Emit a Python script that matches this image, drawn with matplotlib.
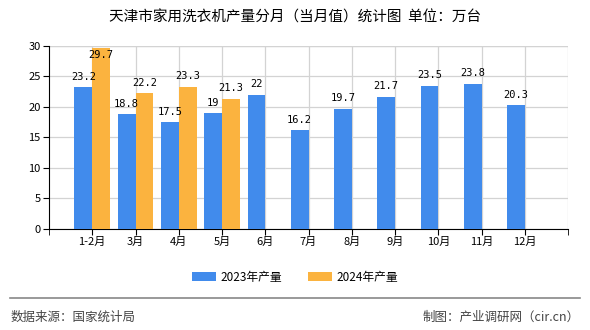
import numpy as np
import matplotlib
matplotlib.use("Agg")
import matplotlib.pyplot as plt
from matplotlib.lines import Line2D

plt.rcParams['font.family'] = ['Noto Sans CJK SC', 'DejaVu Sans']

months = ["1-2月", "3月", "4月", "5月", "6月", "7月", "8月", "9月", "10月", "11月", "12月"]
y2023 = [23.2, 18.8, 17.5, 19, 22, 16.2, 19.7, 21.7, 23.5, 23.8, 20.3]
y2024 = [29.7, 22.2, 23.3, 21.3]
yticks = [0, 5, 10, 15, 20, 25, 30]

BLUE = "#418bec"
ORANGE = "#fbb33f"


def fmt(v):
    return f"{v:g}"


fig = plt.figure(figsize=(5.9, 3.3), dpi=100)
ax = fig.add_axes([0.083, 0.306, 0.880, 0.555])

x = np.arange(1, len(months) + 1)
w = 0.41
ax.bar(x - w / 2, y2023, width=w, color=BLUE, label="2023年产量", zorder=3)
x24 = x[:len(y2024)]
ax.bar(x24 + w / 2, y2024, width=w, color=ORANGE, label="2024年产量", zorder=3)

mono = ["DejaVu Sans Mono", "DejaVu Sans"]
for xi, v in zip(x, y2023):
    ax.text(xi - w / 2, v + 0.9, fmt(v), ha="center", va="bottom", fontsize=7.5,
            family=mono, zorder=4)
for xi, v in zip(x24, y2024):
    ax.text(xi + w / 2, v + 0.9 if v < 29 else v - 2.0, fmt(v), ha="center", va="bottom",
            fontsize=7.5, family=mono, zorder=4)

ax.set_xlim(0, 12)
ax.set_ylim(0, 30)
ax.set_yticks(yticks)
ax.set_xticks(x)
ax.set_xticklabels(months)
ax.set_xticks([0, 12], minor=True)
ax.tick_params(axis="both", labelsize=8, length=4, color="black", pad=2)
ax.tick_params(axis="x", which="minor", length=4)
ax.grid(True, color="#d3d3d3", linewidth=0.9, zorder=0)
for s in ["top", "right"]:
    ax.spines[s].set_visible(False)
ax.spines["left"].set_color("black")
ax.spines["bottom"].set_color("black")
ax.axvline(12, color="#d3d3d3", linewidth=0.9, zorder=0)
ax.axhline(30, color="#d3d3d3", linewidth=0.9, zorder=0)

fig.text(0.5, 0.948, "天津市家用洗衣机产量分月（当月值）统计图  单位：万台",
         ha="center", va="center", fontsize=10.5)

fig.legend(loc="center", bbox_to_anchor=(0.5, 0.16), ncol=2, frameon=False,
           fontsize=8.5, handlelength=2.0, handleheight=0.8, columnspacing=2.2,
           handletextpad=0.4)

fig.add_artist(Line2D([0.017, 0.983], [0.097, 0.097], color="#888888", linewidth=1.2))
fig.text(0.017, 0.040, "数据来源：国家统计局", ha="left", va="center", fontsize=9, color="#444444")
fig.text(0.983, 0.040, "制图：产业调研网（cir.cn）", ha="right", va="center", fontsize=9, color="#444444")

fig.savefig("out.png", dpi=100)
